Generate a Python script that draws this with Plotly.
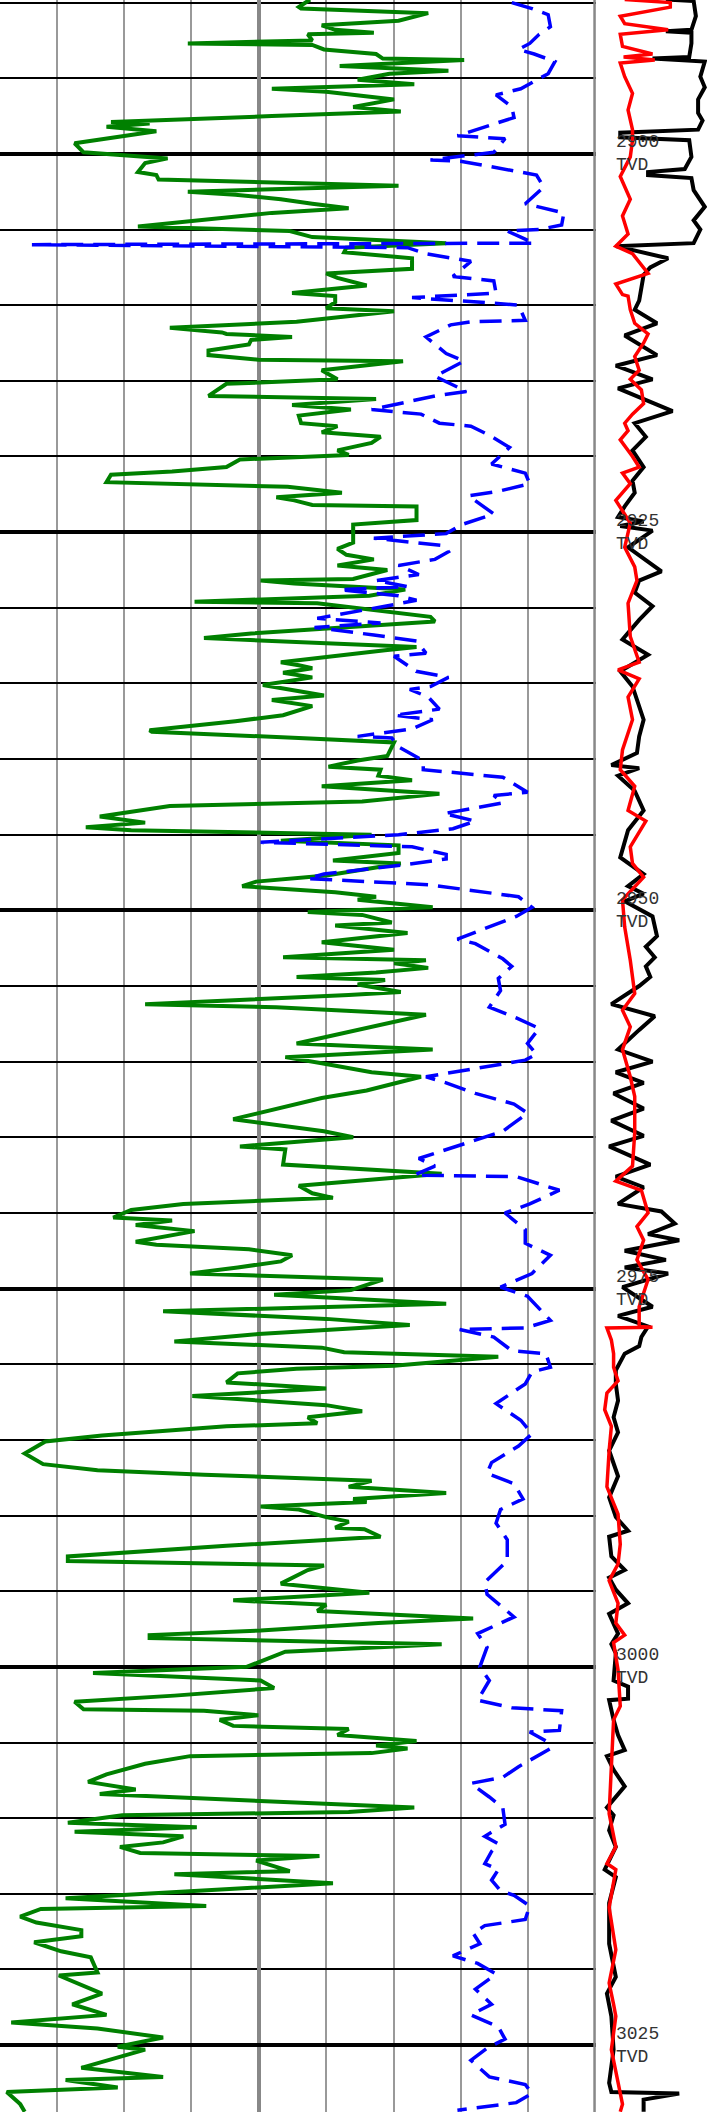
import plotly.graph_objs as go

# depth window shown (m TVD)
top_depth = 2889.83
bottom_depth = 3029.42

# green curve (left track, 0-150 scale)
gr_depth = [2889.8, 2890.3, 2890.4, 2890.7, 2891.2, 2891.5, 2891.8, 2892.0, 2892.1, 2892.5, 2892.7, 2892.8, 2893.1, 2893.4, 2893.7, 2893.8, 2894.2, 2894.5, 2894.7, 2895.1, 2895.4, 2895.7, 2895.9, 2896.4, 2896.9, 2897.2, 2897.5, 2897.9, 2898.0, 2898.2, 2898.5, 2899.0, 2899.3, 2899.9, 2900.3, 2900.6, 2901.2, 2901.4, 2901.7, 2902.1, 2902.5, 2902.7, 2903.0, 2903.3, 2903.6, 2903.9, 2904.4, 2904.8, 2905.1, 2905.5, 2905.9, 2906.2, 2906.5, 2906.9, 2907.6, 2907.9, 2908.2, 2908.7, 2909.2,
            2909.4, 2909.8, 2910.2, 2910.4, 2911.1, 2911.5, 2911.8, 2911.9, 2912.1, 2912.3, 2912.6, 2913.0, 2913.3, 2913.6, 2913.7, 2914.3, 2914.9, 2915.2, 2916.0, 2916.2, 2916.6, 2916.9, 2917.3, 2917.8, 2918.0, 2918.4, 2918.7, 2919.1, 2919.6, 2919.9, 2920.2, 2920.7, 2921.0, 2921.2, 2921.7,
            2922.0, 2922.4, 2922.7, 2922.9, 2923.2, 2923.3, 2924.2, 2924.5, 2925.7, 2926.1, 2926.5, 2926.8, 2927.2, 2927.5, 2928.1, 2928.2, 2928.4, 2928.8, 2929.2, 2929.6, 2929.7, 2930.0, 2930.6, 2930.9, 2931.3, 2931.7, 2932.0, 2932.3, 2932.6, 2932.8, 2933.6, 2933.8, 2934.0, 2934.3,
            2934.6, 2935.1, 2935.8, 2936.1, 2936.5, 2937.1, 2937.5, 2938.1, 2938.2, 2938.6, 2938.9, 2939.8, 2940.1, 2940.5, 2940.7, 2941.1, 2941.4, 2941.8, 2942.3, 2942.8, 2943.1, 2943.8, 2944.2, 2944.5, 2944.7, 2945.0, 2945.4, 2945.7, 2946.2, 2946.7,
            2946.9, 2947.7, 2948.1, 2948.4, 2948.8, 2949.1, 2949.3, 2949.8, 2950.1, 2950.3, 2950.8, 2951.0, 2951.5, 2952.1, 2952.6, 2953.1, 2953.3, 2953.5, 2953.8, 2954.1, 2954.4, 2954.6, 2954.9, 2955.4, 2955.6, 2956.2, 2956.4, 2956.9, 2957.5, 2958.0, 2958.8, 2959.2,
            2959.7, 2960.1, 2960.7, 2961.0, 2961.9, 2962.4, 2963.8, 2964.6, 2965.0, 2965.6, 2965.8, 2966.8, 2967.4, 2968.2, 2968.7, 2969.0, 2969.4, 2969.8, 2970.3, 2970.5, 2970.8, 2971.2, 2971.9,
            2972.1, 2972.4, 2972.8, 2973.2, 2973.6, 2974.0, 2974.4, 2975.1, 2975.4, 2976.0, 2976.5, 2977.0, 2977.4, 2978.0, 2978.5, 2978.9, 2979.2, 2979.5, 2980.1, 2980.3, 2980.6, 2981.2, 2981.6, 2981.9, 2982.1, 2982.7, 2983.1, 2983.5, 2983.9, 2984.1,
            2984.7, 2985.1, 2985.9, 2986.6, 2987.0, 2987.3, 2987.7, 2988.1, 2988.5, 2988.9, 2989.1, 2989.4, 2989.6, 2990.1, 2990.4, 2990.8, 2990.9, 2991.4, 2992.0, 2992.7, 2993.0, 2993.3, 2993.6, 2994.5, 2995.1, 2995.6, 2995.9, 2996.3, 2996.5, 2996.8,
            2997.1, 2997.6, 2997.9, 2998.1, 2998.5, 2999.0, 2999.7, 3000.0, 3000.4, 3000.9, 3001.4, 3001.9, 3002.3, 3002.8, 3002.9, 3003.2, 3003.5, 3003.9, 3004.1, 3004.5, 3004.9, 3005.2, 3005.4, 3005.7, 3005.9, 3006.4, 3007.1, 3007.6, 3008.1, 3008.4, 3009.3,
            3009.6, 3009.8, 3010.3, 3010.6, 3010.9, 3011.2, 3011.6, 3011.9, 3012.3, 3012.5, 3012.8, 3013.5, 3013.7, 3014.3, 3014.8, 3015.3, 3015.8, 3016.0, 3016.5, 3016.9, 3017.4, 3017.8, 3018.2, 3018.8,
            3019.2, 3020.2, 3020.4, 3021.6, 3022.3, 3023.0, 3023.5, 3023.9, 3024.5, 3025.1, 3025.3, 3026.5, 3027.1, 3027.3, 3027.8, 3028.1, 3028.9, 3029.4]
gr_value = [86.4, 83.9, 84.4, 112.7, 106.1, 89.0, 92.0, 100.6, 85.9, 86.9, 59.2, 86.9, 89.5, 101.1, 102.6, 120.7, 93.0, 117.2, 104.1, 97.0, 109.6, 77.9, 90.0, 105.1, 96.0, 106.6, 77.9, 42.1, 50.7, 41.1, 52.2, 41.6, 34.0, 36.0, 54.7, 49.7, 48.1, 52.2, 52.7, 106.1, 59.2, 69.8, 79.9, 86.9, 95.0, 77.9, 61.8, 48.1, 81.9, 86.9, 116.7, 94.5, 94.0, 109.1, 109.1, 90.0, 92.5, 99.0, 82.4,
            92.0, 92.0, 90.0, 105.1, 83.4, 55.2, 66.8, 67.8, 82.4, 73.3, 72.8, 63.8, 63.8, 74.9, 107.1, 89.0, 92.5, 67.8, 63.8, 101.1, 82.4, 95.5, 83.9, 84.4, 92.5, 89.0, 102.1, 100.1, 92.5, 95.0, 70.8, 67.8, 55.7, 42.1, 41.1,
            81.4, 93.5, 78.9, 82.9, 86.9, 110.1, 110.1, 96.0, 96.0, 92.5, 94.5, 100.6, 92.5, 103.6, 96.0, 75.4, 82.9, 107.6, 99.6, 60.7, 88.0, 97.0, 113.2, 114.2, 92.0, 73.3, 62.8, 85.9, 110.1, 103.1, 79.9, 83.9, 86.9, 80.4,
            86.9, 75.9, 89.5, 77.9, 86.9, 80.4, 69.8, 50.7, 51.2, 83.9, 105.1, 103.6, 97.0, 90.5, 102.1, 101.6, 109.1, 89.0, 115.2, 98.0, 55.2, 39.6, 49.7, 36.5, 46.6, 100.1, 79.9, 106.1, 106.1, 91.5,
            106.6, 90.0, 74.4, 71.3, 92.0, 101.1, 97.0, 113.7, 85.9, 98.0, 104.6, 92.0, 108.1, 89.0, 105.1, 80.4, 112.2, 105.1, 112.7, 101.1, 83.4, 103.1, 97.0, 106.6, 95.0, 49.7, 78.9, 112.2, 103.1, 95.0, 83.4, 113.7,
            80.9, 89.0, 100.1, 111.1, 99.0, 89.0, 69.3, 89.5, 96.0, 70.8, 80.9, 80.4, 115.7, 83.9, 86.9, 91.5, 58.2, 46.6, 42.6, 55.7, 47.6, 60.7, 47.6,
            52.2, 72.8, 82.4, 79.9, 70.3, 59.7, 102.6, 95.5, 78.4, 116.7, 53.7, 90.0, 108.6, 74.9, 56.2, 89.0, 94.0, 128.3, 105.1, 83.4, 70.3, 67.8, 90.0, 73.8, 60.2, 90.0, 98.0, 85.9, 88.0, 67.8,
            40.1, 27.5, 22.9, 27.0, 39.1, 62.8, 100.1, 95.0, 116.7, 96.0, 99.0, 75.4, 83.9, 90.0, 95.0, 92.0, 98.5, 102.1, 67.8, 32.5, 32.5, 89.5, 85.9, 79.9, 99.6, 69.3, 90.0, 88.0, 101.1, 122.7,
            101.6, 75.4, 50.7, 50.7, 115.7, 80.9, 74.9, 72.3, 38.1, 75.4, 78.4, 56.2, 34.0, 36.0, 62.8, 74.9, 66.3, 69.3, 95.0, 92.5, 110.1, 101.1, 108.1, 100.1, 59.7, 49.7, 41.1, 37.0, 47.6, 39.6, 109.6,
            95.0, 44.6, 32.5, 61.2, 34.0, 58.2, 53.7, 44.1, 48.6, 88.5, 74.4, 81.9, 56.2, 91.5, 60.7, 32.0, 63.3, 26.5, 21.9, 25.5, 35.5, 35.5, 25.0, 31.0,
            37.6, 39.1, 30.5, 40.1, 33.5, 41.1, 19.9, 39.1, 53.7, 43.6, 49.7, 35.5, 53.7, 32.0, 43.6, 18.9, 21.9, 22.9]

# blue dashed curve (left track, same scale)
bl_depth = [2890.0, 2890.4, 2890.8, 2891.6, 2892.1, 2892.7, 2893.1, 2893.4, 2893.9, 2894.7, 2895.2, 2895.7, 2896.1, 2896.9, 2897.6, 2898.2, 2898.8, 2899.0, 2899.9, 2900.4, 2900.5, 2900.8, 2901.4, 2902.2, 2903.3, 2903.9, 2904.7, 2905.0, 2905.1, 2905.5, 2905.9, 2906.0, 2906.2, 2906.6, 2907.1, 2908.1, 2908.4, 2909.2, 2909.5,
            2909.9, 2910.0, 2911.0, 2911.1, 2911.3, 2912.1, 2913.2, 2913.7, 2914.7, 2915.3, 2915.7, 2916.0, 2916.3, 2916.9, 2917.2, 2917.8, 2918.0, 2918.6, 2919.4, 2920.5, 2921.1, 2921.8,
            2922.3, 2922.6, 2923.8, 2924.5, 2925.1, 2925.4, 2925.9, 2926.3, 2926.8, 2927.2, 2927.8, 2928.2, 2928.6, 2928.8, 2929.2, 2929.5, 2929.9, 2930.7, 2931.0, 2931.3, 2931.8, 2932.2, 2933.0, 2933.2, 2934.2,
            2934.6, 2935.2, 2935.4, 2935.9, 2936.7, 2937.1, 2937.4, 2938.0, 2938.5, 2938.6, 2939.2, 2940.1, 2940.7, 2941.2, 2942.2, 2942.4, 2942.9, 2943.6, 2944.1, 2944.6, 2945.0, 2945.5, 2945.8, 2946.3, 2946.6, 2947.0,
            2947.6, 2947.9, 2948.3, 2949.1, 2949.8, 2950.4, 2951.9, 2952.2, 2953.2, 2953.7, 2954.5, 2955.3, 2956.4, 2957.1, 2957.8, 2958.8, 2959.5,
            2959.9, 2961.0, 2961.4, 2962.1, 2962.8, 2963.4, 2964.6, 2965.7, 2966.4, 2966.9, 2967.5, 2967.6, 2968.5, 2969.4, 2970.0, 2971.1, 2972.0,
            2972.8, 2974.0, 2974.9, 2975.5, 2977.1, 2977.6, 2977.7, 2978.2, 2979.1, 2979.3, 2980.2, 2980.5, 2981.3, 2982.6, 2983.7, 2984.6,
            2985.4, 2986.5, 2987.2, 2987.9, 2988.9, 2989.6, 2990.5, 2991.6, 2993.0, 2994.4, 2995.2, 2996.7,
            2997.8, 2998.7, 3000.0, 3000.9, 3002.2, 3002.7, 3002.9, 3004.2, 3004.3, 3004.9, 3005.4, 3006.1, 3006.6, 3007.3, 3007.7, 3008.6, 3009.3,
            3010.4, 3011.2, 3011.7, 3012.2, 3013.0, 3013.4, 3014.1, 3014.8, 3015.1, 3015.8, 3016.7, 3017.1, 3017.6, 3018.3, 3019.1, 3019.6, 3020.3, 3021.3, 3022.3,
            3023.0, 3023.8, 3024.6, 3025.2, 3026.0, 3027.1, 3027.6, 3028.2, 3028.8, 3029.3]
bl_value = [131.3, 135.8, 139.4, 139.9, 137.4, 135.3, 132.8, 136.3, 140.9, 139.4, 136.3, 133.3, 127.8, 131.3, 131.8, 125.8, 119.2, 129.8, 127.3, 113.2, 120.2, 125.8, 136.8, 138.4, 134.3, 142.9, 142.4, 137.4, 130.3, 133.3, 136.3, 24.5, 108.1, 112.2, 122.2, 118.2, 127.3, 127.8, 109.1,
            128.8, 132.8, 134.3, 122.2, 117.7, 112.2, 116.7, 120.7, 114.2, 118.2, 121.2, 114.2, 109.6, 100.1, 111.1, 115.2, 122.2, 126.3, 130.8, 126.8, 134.3, 135.3,
            128.3, 121.7, 127.3, 120.2, 116.7, 100.6, 116.2, 117.2, 114.2, 106.1, 110.6, 101.1, 108.1, 93.0, 106.1, 110.1, 103.1, 88.0, 102.1, 87.4, 100.6, 110.1, 112.2, 105.1, 110.0,
            117.2, 113.2, 108.6, 112.7, 115.2, 105.1, 113.7, 109.1, 97.0, 104.6, 106.1, 111.6, 111.6, 129.3, 134.8, 127.3, 129.3, 116.2, 123.2, 118.2, 106.1, 75.4, 109.1, 116.7, 116.7, 107.1,
            89.5, 85.9, 112.7, 132.8, 135.8, 132.3, 119.2, 123.2, 129.3, 131.3, 128.3, 128.8, 126.3, 132.3, 137.4, 134.8, 136.8,
            134.3, 112.2, 116.7, 123.2, 131.8, 134.8, 129.3, 118.2, 110.6, 114.2, 109.6, 132.3, 141.9, 135.3, 129.8, 134.3, 134.3,
            139.9, 135.8, 128.8, 134.8, 139.9, 134.3, 119.7, 127.3, 131.3, 138.9, 139.9, 135.8, 134.3, 127.8, 133.3, 135.8,
            132.8, 126.8, 125.8, 131.8, 133.8, 128.8, 127.8, 130.3, 130.3, 125.3, 125.8, 131.8,
            123.7, 125.8, 124.2, 126.3, 123.7, 131.3, 142.4, 141.9, 135.3, 138.9, 139.9, 135.8, 132.8, 129.3, 122.2, 126.3, 129.3,
            129.8, 125.3, 128.3, 126.8, 125.3, 128.3, 126.8, 128.8, 131.8, 135.3, 134.3, 125.3, 122.7, 124.2, 118.2, 123.7, 127.8, 123.2, 126.8,
            122.2, 128.3, 129.8, 125.8, 122.2, 126.3, 134.3, 135.8, 132.3, 119.2]

# red curve (right track, 0-10 scale)
rd_depth = [2889.8, 2890.0, 2890.3, 2890.9, 2891.4, 2891.8, 2892.1, 2892.9, 2893.4, 2893.6, 2893.8, 2894.0, 2894.9, 2896.0, 2897.1, 2898.4, 2899.1, 2900.2, 2901.5, 2903.0, 2904.1, 2905.3, 2906.1, 2906.6, 2907.9, 2908.6, 2909.3,
            2909.4, 2910.3, 2911.2, 2911.9, 2912.5, 2913.4, 2914.3, 2914.9, 2915.6, 2916.5, 2917.2, 2917.8, 2918.3, 2918.9, 2920.0, 2920.7, 2921.1, 2921.8,
            2922.9, 2924.4, 2926.0, 2927.3, 2928.2, 2929.7, 2931.9, 2933.6, 2934.1,
            2934.7, 2935.9, 2937.4, 2939.4, 2940.7, 2941.8, 2943.4, 2944.1, 2945.8, 2946.9,
            2947.8, 2949.3, 2951.1, 2953.3, 2955.5, 2956.6, 2957.7, 2959.2,
            2961.0, 2962.3, 2964.7, 2966.9, 2967.9, 2968.5, 2970.0, 2970.9, 2971.8,
            2973.1, 2974.4, 2976.2, 2977.5, 2977.55, 2977.6, 2978.4, 2979.3, 2980.2, 2981.1, 2981.9, 2983.0, 2984.1,
            2985.7, 2988.1, 2989.9, 2991.9, 2993.2, 2994.3, 2995.8, 2997.1,
            2997.9, 2998.4, 3000.2, 3002.6, 3003.5, 3006.4, 3009.7,
            3011.9, 3013.0, 3013.4, 3015.9, 3018.7, 3020.9, 3022.3,
            3023.1, 3025.3, 3027.5, 3028.9, 3029.4]
rd_value = [2.6, 6.7, 6.7, 2.2, 2.6, 6.5, 2.2, 2.4, 5.1, 2.5, 5.3, 2.2, 2.6, 3.3, 2.9, 3.3, 3.3, 3.1, 2.2, 3.1, 2.4, 2.9, 1.8, 3.3, 4.7, 1.8, 2.4,
            2.9, 3.1, 3.5, 4.7, 4.3, 3.5, 3.9, 3.1, 4.1, 4.3, 3.3, 2.6, 2.9, 2.2, 3.3, 3.9, 2.4, 3.1,
            1.8, 3.1, 2.6, 3.5, 3.7, 2.9, 3.1, 3.9, 2.0,
            3.9, 2.9, 3.3, 2.4, 2.2, 3.5, 2.9, 4.5, 3.1, 3.3,
            4.3, 2.4, 2.6, 3.1, 3.5, 2.4, 3.1, 2.4,
            3.1, 3.5, 3.5, 3.3, 1.8, 4.1, 4.7, 3.7, 4.3,
            3.7, 4.7, 3.9, 3.9, 5.1, 1.0, 1.4, 1.6, 1.6, 2.0, 1.0, 0.8, 1.4,
            1.2, 1.0, 2.0, 2.2, 2.0, 1.2, 2.0, 1.8,
            2.6, 1.6, 2.0, 2.2, 1.6, 1.4, 1.2,
            1.8, 1.0, 1.8, 1.2, 1.8, 1.2, 1.6,
            1.8, 1.4, 2.0, 2.4, 2.2]

# black curve (right track, 0-10 scale)
bk_depth = [2889.8, 2889.9, 2890.9, 2891.8, 2891.9, 2892.0, 2892.7, 2893.6, 2893.7, 2893.9, 2894.9, 2895.6, 2896.4, 2897.3, 2897.8, 2898.4, 2898.6, 2898.9, 2899.1, 2900.2, 2901.0, 2901.2, 2901.4, 2901.6, 2902.4, 2903.5, 2904.4, 2905.0, 2905.9, 2906.1, 2906.9, 2907.5, 2908.0, 2909.0,
            2909.7, 2910.3, 2911.2, 2912.0, 2913.3, 2914.0, 2914.9, 2915.5, 2917.0, 2917.8, 2918.7, 2919.6, 2920.7, 2921.6,
            2922.4, 2923.3, 2924.0, 2924.3, 2924.6, 2924.9, 2926.0, 2927.6, 2928.2, 2929.0, 2929.9, 2930.8, 2932.1, 2933.1, 2934.2,
            2935.2, 2937.4, 2938.5, 2939.6, 2940.4, 2940.6, 2941.1, 2942.1, 2943.4, 2944.7, 2946.5,
            2947.6, 2948.4, 2948.9, 2949.4, 2950.4, 2951.7, 2952.4, 2953.1, 2953.7, 2954.4, 2955.0, 2956.2, 2957.0, 2957.9, 2959.2,
            2960.0, 2960.7, 2961.4, 2962.1, 2963.1, 2963.9, 2964.9, 2965.6, 2966.8, 2967.6, 2968.3, 2969.4, 2969.9, 2970.7, 2971.4, 2971.8,
            2972.5, 2973.1, 2973.6, 2974.0, 2974.9, 2976.2, 2976.8, 2977.5, 2978.2, 2978.8, 2979.3, 2980.4, 2981.3, 2982.4, 2983.5, 2984.5,
            2985.7, 2987.4, 2988.8, 2990.1, 2991.0, 2991.4, 2992.7, 2993.6, 2994.1, 2994.9, 2995.8, 2996.5,
            2997.8, 2998.5, 2999.1, 3000.9, 3001.3, 3002.1, 3002.2, 3003.5, 3004.5, 3005.5, 3005.9, 3006.8, 3007.9, 3009.3,
            3009.8, 3010.8, 3011.9, 3013.4, 3013.9, 3015.6, 3018.3, 3020.5, 3021.6,
            3023.1, 3025.3, 3027.5, 3028.1, 3028.2, 3028.6, 3029.4]
bk_value = [6.3, 8.8, 9.0, 8.6, 6.3, 8.6, 8.6, 8.4, 5.1, 9.8, 9.4, 9.8, 9.2, 9.2, 9.6, 9.2, 2.2, 2.2, 8.4, 8.6, 8.0, 4.7, 4.7, 8.6, 8.8, 9.8, 8.8, 9.4, 8.8, 1.8, 6.5, 4.9, 4.3, 4.1,
            3.9, 3.5, 5.5, 2.6, 5.5, 1.8, 5.1, 2.0, 6.9, 3.5, 4.5, 3.3, 4.3, 3.3,
            3.5, 2.6, 2.0, 4.3, 2.2, 5.1, 2.9, 5.9, 3.9, 3.5, 5.1, 3.9, 2.4, 4.7, 2.2,
            3.3, 4.3, 3.9, 3.7, 1.4, 3.9, 2.0, 3.5, 4.3, 2.9, 2.2,
            4.3, 2.9, 4.3, 2.6, 5.1, 5.5, 4.5, 5.3, 4.5, 4.9, 3.9, 1.4, 5.3, 3.9, 2.0,
            5.1, 1.8, 4.3, 1.6, 4.3, 1.4, 4.3, 1.2, 4.9, 1.8, 4.3, 2.0, 5.9, 7.1, 4.7, 7.5,
            2.6, 6.3, 2.6, 6.5, 2.4, 5.1, 2.0, 4.7, 4.1, 3.9, 2.6, 1.8, 1.8, 2.0, 1.6, 2.0,
            1.2, 2.0, 1.2, 1.8, 2.9, 1.2, 1.4, 2.6, 1.2, 1.8, 2.9, 1.2,
            2.0, 1.4, 1.8, 1.6, 2.9, 2.9, 1.2, 1.6, 2.0, 2.6, 1.0, 1.6, 2.6, 1.0,
            1.6, 1.2, 1.8, 0.8, 1.8, 1.2, 1.2, 1.8, 1.0,
            1.4, 1.6, 1.2, 1.4, 7.5, 4.3, 4.3]

# depth markers written in the right track
marker_depths = [2900, 2925, 2950, 2975, 3000, 3025]

split = 595.8 / 707

trace_gr = go.Scatter(x=gr_value, y=gr_depth, mode="lines", xaxis="x", yaxis="y",
                      line=dict(color="green", width=4), hoverinfo="x+y", showlegend=False)
trace_bl = go.Scatter(x=bl_value, y=bl_depth, mode="lines", xaxis="x", yaxis="y",
                      line=dict(color="blue", width=3.5, dash="22px,10px"), hoverinfo="x+y", showlegend=False)
trace_bk = go.Scatter(x=bk_value, y=bk_depth, mode="lines", xaxis="x2", yaxis="y2",
                      line=dict(color="black", width=4), hoverinfo="x+y", showlegend=False)
trace_rd = go.Scatter(x=rd_value, y=rd_depth, mode="lines", xaxis="x2", yaxis="y2",
                      line=dict(color="red", width=3.5), hoverinfo="x+y", showlegend=False)

annotations = []
for d in marker_depths:
    annotations.append(dict(x=1.6, y=d, xref="x2", yref="y2", text="{}<br>TVD".format(d),
                            showarrow=False, xanchor="left", yanchor="middle", align="left",
                            font=dict(family="Liberation Mono", size=18, color="#333333")))

layout = go.Layout(
    width=707, height=2112, autosize=False,
    margin=dict(l=0, r=0, t=0, b=0, pad=0),
    paper_bgcolor="white", plot_bgcolor="white",
    xaxis=dict(domain=[0, split], range=[17.4, 150], showticklabels=False, ticks="",
               zeroline=False, showline=False,
               tick0=0, dtick=75, showgrid=True, gridcolor="#888888", gridwidth=4,
               minor=dict(tick0=0, dtick=15, showgrid=True, gridcolor="#999999", gridwidth=1.5)),
    yaxis=dict(range=[bottom_depth, top_depth], showticklabels=False, ticks="",
               zeroline=False, showline=False,
               tick0=2900, dtick=25, showgrid=True, gridcolor="black", gridwidth=3.5,
               minor=dict(tick0=2900, dtick=5, showgrid=True, gridcolor="black", gridwidth=1.5)),
    xaxis2=dict(domain=[split, 1], range=[0, 10], showticklabels=False, ticks="",
                zeroline=False, showline=False, showgrid=False),
    yaxis2=dict(anchor="x2", matches="y", range=[bottom_depth, top_depth], showticklabels=False,
                ticks="", zeroline=False, showline=False, showgrid=False),
    shapes=[dict(type="line", xref="x", yref="paper", x0=150, x1=150, y0=0, y1=1,
                 line=dict(color="#888888", width=5))],
    annotations=annotations,
)

fig = go.Figure(data=[trace_gr, trace_bl, trace_bk, trace_rd], layout=layout)
# page body has a default 8px margin, drop it so the figure sits at the corner
fig.write_html("out.html", config={"displayModeBar": False},
               post_script="document.body.style.margin = '0';")
